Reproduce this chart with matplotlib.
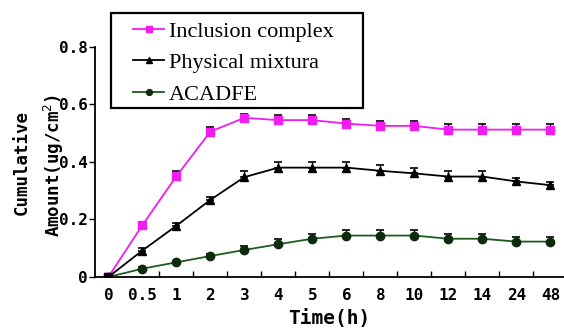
import numpy as np
import matplotlib
matplotlib.use("Agg")
import matplotlib.pyplot as plt
from matplotlib.patches import Rectangle

# time points (categorical axis)
times = ["0", "0.5", "1", "2", "3", "4", "5", "6", "8", "10", "12", "14", "24", "48"]

inclusion = [0, 0.18, 0.35, 0.505, 0.553, 0.545, 0.545, 0.533, 0.525, 0.525, 0.512, 0.512, 0.512, 0.512]
inclusion_err = [0, 0.012, 0.017, 0.016, 0.012, 0.018, 0.018, 0.017, 0.017, 0.017, 0.018, 0.018, 0.018, 0.018]

physical = [0, 0.092, 0.178, 0.268, 0.347, 0.38, 0.38, 0.38, 0.369, 0.36, 0.349, 0.349, 0.332, 0.319]
physical_err = [0, 0.008, 0.01, 0.01, 0.02, 0.021, 0.021, 0.02, 0.02, 0.019, 0.02, 0.02, 0.012, 0.01]

acadfe = [0, 0.029, 0.051, 0.073, 0.094, 0.114, 0.133, 0.144, 0.144, 0.144, 0.133, 0.133, 0.123, 0.123]
acadfe_err = [0, 0.005, 0.006, 0.008, 0.014, 0.018, 0.018, 0.018, 0.018, 0.019, 0.018, 0.018, 0.015, 0.016]

mono = "DejaVu Sans Mono"
W, H = 564, 329

fig = plt.figure(figsize=(5.64, 3.29), dpi=100)
ax = fig.add_axes([0.168, 0.158, 0.832, 0.70])

x = np.arange(len(times))
series = [
    (inclusion, inclusion_err, "#f01cf0", "s", "#f01cf0", "Inclusion complex"),
    (physical, physical_err, "black", "^", "black", "Physical mixtura"),
    (acadfe, acadfe_err, "#1e5a1e", "o", "#0c2a0c", "ACADFE"),
]
handles = []
for vals, err, col, mk, mcol, lab in series:
    vals = np.array(vals)
    ax.errorbar(x, vals, yerr=[np.zeros(len(err)), err], fmt="none",
                ecolor="black", elinewidth=1, capsize=3, capthick=1.2, zorder=2)
    h, = ax.plot(x, vals, color=col, lw=1.3, marker=mk, markersize=6,
                 markerfacecolor=mcol, markeredgecolor=mcol, label=lab, zorder=3)
    handles.append(h)
# first point drawn black
ax.plot([0], [0], marker="s", color="black", markersize=6, zorder=4)

ax.set_xlim(-0.4, 13.4)
ax.set_ylim(0, 0.8)
ax.spines["top"].set_visible(False)
ax.spines["right"].set_visible(False)
ax.spines["left"].set_bounds(0, 0.8)
for s in ["left", "bottom"]:
    ax.spines[s].set_linewidth(1.3)

ax.set_xticks(x)
ax.set_xticklabels(times, fontfamily=mono, fontweight="bold", fontsize=11.5)
ax.tick_params(axis="x", which="major", length=0, pad=8)
ax.set_xticks(np.arange(1.5, 13, 1), minor=True)
ax.tick_params(axis="x", which="minor", direction="in", length=4, width=1)

ax.set_yticks([0, 0.2, 0.4, 0.6, 0.8])
ax.set_yticklabels(["0", "0.2", "0.4", "0.6", "0.8"], fontfamily=mono,
                   fontweight="bold", fontsize=11.5)
ax.tick_params(axis="y", direction="out", length=4, width=1, pad=1)

ax.set_xlabel("Time(h)", fontfamily=mono, fontweight="bold", fontsize=14, labelpad=4)
fig.text(0.039, 0.505, "Cumulative", rotation=90, ha="center", va="center",
         fontfamily=mono, fontweight="bold", fontsize=12.5)
fig.text(0.096, 0.498, "Amount(ug/cm$^{2}$)", rotation=90, ha="center", va="center",
         fontfamily=mono, fontweight="bold", fontsize=12.5)

# legend box drawn by hand (it is wider than its text)
fig.patches.append(Rectangle((111 / W, 1 - 108 / H), 252 / W, 95 / H,
                             transform=fig.transFigure, fill=True, facecolor="white",
                             edgecolor="black", lw=1.6, zorder=5))
leg = fig.legend(handles=handles, loc="upper left", bbox_to_anchor=(133 / W, 1 - 21 / H),
                 prop={"family": "Liberation Serif", "size": 16}, markerscale=0.7,
                 handlelength=1.4, handletextpad=0.2, labelspacing=0.5,
                 borderpad=0, borderaxespad=0, frameon=False)
leg.set_zorder(6)

fig.savefig("out.png", dpi=100)
